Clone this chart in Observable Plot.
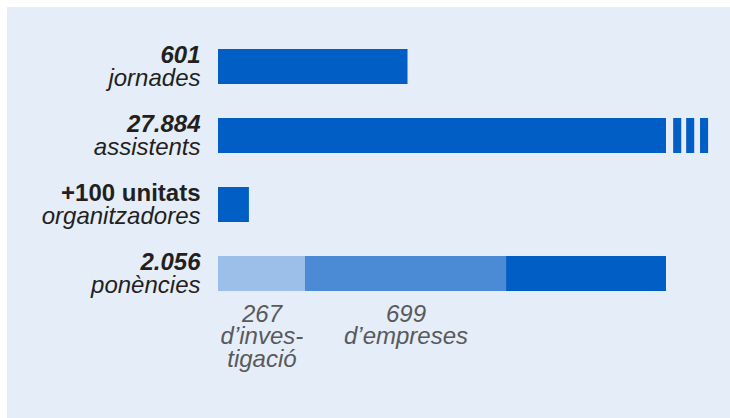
<!DOCTYPE html>
<html>
<head>
<meta charset="utf-8">
<script src="https://cdn.jsdelivr.net/npm/d3@7"></script>
<script src="https://cdn.jsdelivr.net/npm/@observablehq/plot@0.6"></script>
<style>
  html, body { margin: 0; padding: 0; background: #ffffff; }
  #wrap { padding: 7px 0 0 7px; width: 723px; height: 411px; }
  #wrap svg { display: block; }
</style>
</head>
<body>
<div id="wrap"></div>
<script>
// Rows of the chart
const categories = ["jornades", "assistents", "organitzadores", "ponencies"];
const figures = ["601", "27.884", "+100 unitats", "2.056"];
const figureWeight = ["bold", "bold", "bold", "bold"];
const figureStyle = ["italic", "italic", "normal", "italic"];
const units = ["jornades", "assistents", "organitzadores", "ponències"];
// Drawn bar lengths (bars are not to scale; % of full bar width)
const barLength = [42.3, 100, 6.9, 0];
// Ponències bar split into segments (drawn lengths, % of full width)
const segStart = [0, 19.4, 64.3];
const segEnd = [19.4, 64.3, 100];
const segColor = ["#9bbfe8", "#4b8bd6", "#005ec4"];
// Break marks after the "assistents" bar (% of full width)
const breakStart = [101.6, 104.5, 107.6];
const breakEnd = [103.4, 106.3, 109.4];
// Labels under the ponències segments
const subLabels = ["267\nd’inves-\ntigació", "699\nd’empreses"];
const subCenters = [9.7, 41.85];

const rows = categories.map((c, i) => ({cat: c, fig: figures[i], unit: units[i], len: barLength[i], w: figureWeight[i], s: figureStyle[i]}));
const segs = segStart.map((s, i) => ({cat: "ponencies", x1: s, x2: segEnd[i], color: segColor[i]}));
const breaks = breakStart.map((s, i) => ({cat: "assistents", x1: s, x2: breakEnd[i]}));
const subs = subLabels.map((t, i) => ({cat: "ponencies", x: subCenters[i], t}));

const dark = "#005ec4";
const ink = "#231f20";

const chart = Plot.plot({
  width: 723,
  height: 411,
  margin: 0,
  style: {background: "#e5edf8", fontFamily: "'Liberation Sans', Arial, sans-serif", overflow: "visible"},
  x: {domain: [0, 100], range: [211, 659], axis: null},
  y: {type: "band", domain: categories, range: [41, 284], paddingInner: 0.495, paddingOuter: 0, axis: null},
  marks: [
    Plot.rectX(rows.filter(d => d.len > 0), {x1: 0, x2: "len", y: "cat", fill: dark}),
    Plot.rectX(segs, {x1: "x1", x2: "x2", y: "cat", fill: "color"}),
    Plot.rectX(breaks, {x1: "x1", x2: "x2", y: "cat", fill: dark}),
    ...rows.map(r => Plot.text([r], {x: 0, y: "cat", text: "fig", textAnchor: "end", dx: -18, dy: -11.2,
      fontSize: 24, fontWeight: r.w, fontStyle: r.s, fill: ink})),
    Plot.text(rows, {x: 0, y: "cat", text: "unit", textAnchor: "end", dx: -18, dy: 11.8,
      fontSize: 24, fontStyle: "italic", fill: ink}),
    Plot.text(subs, {x: "x", y: "cat", text: "t", textAnchor: "middle", lineAnchor: "top", dy: 31.5,
      lineHeight: 0.94, fontSize: 24, fontStyle: "italic", fill: "#58595b"})
  ]
});
document.getElementById("wrap").appendChild(chart);
</script>
</body>
</html>
